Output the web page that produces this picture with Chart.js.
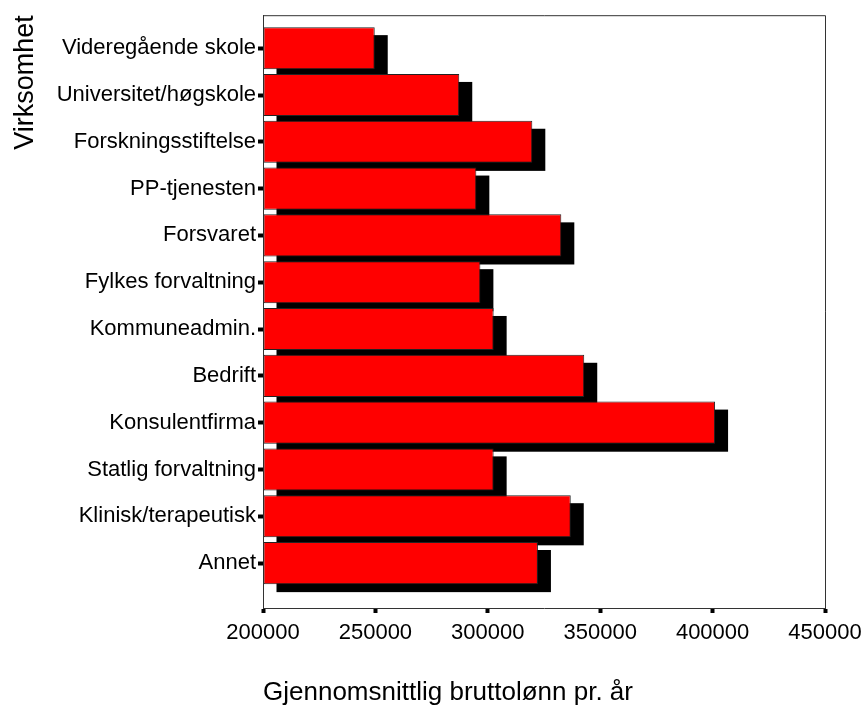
<!DOCTYPE html>
<html>
<head>
<meta charset="utf-8">
<script src="https://cdn.jsdelivr.net/npm/chart.js@4.4.1/dist/chart.umd.min.js"></script>
<style>
  html, body { margin: 0; padding: 0; background: #ffffff; }
  #wrap { width: 861px; height: 711px; }
</style>
</head>
<body>
<div id="wrap"><canvas id="chart"></canvas></div>
<script>
// data
const categories = [
  'Videregående skole',
  'Universitet/høgskole',
  'Forskningsstiftelse',
  'PP-tjenesten',
  'Forsvaret',
  'Fylkes forvaltning',
  'Kommuneadmin.',
  'Bedrift',
  'Konsulentfirma',
  'Statlig forvaltning',
  'Klinisk/terapeutisk',
  'Annet'
];
const salaries = [249700, 287300, 319800, 294900, 332700, 296700, 302600, 342900, 401100, 302600, 336900, 322300];
const xTicks = [200000, 250000, 300000, 350000, 400000, 450000];

const FONT = "'Liberation Sans', Arial, sans-serif";
const n = categories.length;

// first category on top: row index counted from the bottom
const rows = categories.map((_, i) => n - 1 - i);
const points = salaries.map((v, i) => ({ x: v, y: rows[i] }));

// hard black drop shadow behind each bar, taken from the bar elements
const hardShadow = {
  id: 'hardShadow',
  beforeDatasetsDraw(chart) {
    const ctx = chart.ctx;
    const meta = chart.getDatasetMeta(0);
    ctx.save();
    ctx.fillStyle = '#000000';
    meta.data.forEach(bar => {
      const { x, y, base, height } = bar.getProps(['x', 'y', 'base', 'height'], true);
      const left = Math.min(x, base);
      ctx.fillRect(left + 13, y - height / 2 + 8, Math.abs(x - base), height);
    });
    ctx.restore();
  }
};

// top and right edges of the plot frame
const frame = {
  id: 'frame',
  afterDraw(chart) {
    const { ctx, chartArea: a } = chart;
    ctx.save();
    ctx.strokeStyle = '#333333';
    ctx.lineWidth = 1;
    ctx.beginPath();
    ctx.moveTo(a.left, a.top + 0.5);
    ctx.lineTo(a.right + 0.5, a.top + 0.5);
    ctx.lineTo(a.right + 0.5, a.bottom);
    ctx.stroke();
    ctx.restore();
  }
};

new Chart(document.getElementById('chart'), {
  type: 'bar',
  data: {
    datasets: [{
      data: points,
      base: xTicks[0],
      backgroundColor: '#ff0000',
      borderColor: '#222222',
      borderWidth: 1,
      borderSkipped: false,
      barPercentage: 0.9,
      categoryPercentage: 1.0
    }]
  },
  options: {
    indexAxis: 'y',
    responsive: true,
    maintainAspectRatio: false,
    animation: false,
    layout: { padding: { top: 15, left: 0, right: 0, bottom: 0 } },
    plugins: {
      legend: { display: false },
      tooltip: { enabled: false }
    },
    scales: {
      x: {
        type: 'linear',
        position: 'bottom',
        min: xTicks[0],
        max: xTicks[xTicks.length - 1],
        afterBuildTicks: (s) => { s.ticks = xTicks.map(v => ({ value: v })); },
        afterFit: (s) => { s.height = 103; s.paddingRight = 36; s.paddingLeft = 0; },
        grid: { display: true, drawOnChartArea: false, offset: false, tickLength: 5, tickWidth: 4, tickColor: '#000000' },
        border: { display: true, color: '#333333', width: 1 },
        ticks: {
          padding: 7,
          color: '#000000',
          font: { family: FONT, size: 22 },
          callback: (v) => String(v)
        },
        title: {
          display: true,
          text: 'Gjennomsnittlig bruttolønn pr. år',
          align: 'start',
          color: '#000000',
          padding: { top: 0, bottom: 3 },
          font: { family: FONT, size: 26 }
        }
      },
      y: {
        type: 'linear',
        position: 'left',
        offset: false,
        min: -0.96,
        max: 11.705,
        afterBuildTicks: (s) => { s.ticks = rows.slice().reverse().map(v => ({ value: v })); },
        afterFit: (s) => { s.width = 263; },
        grid: { display: true, drawOnChartArea: false, offset: false, tickLength: 5, tickWidth: 4, tickColor: '#000000' },
        border: { display: true, color: '#333333', width: 1 },
        ticks: {
          autoSkip: false,
          padding: 2,
          color: '#000000',
          font: { family: FONT, size: 22 },
          callback: (v) => categories[n - 1 - v]
        },
        title: {
          display: true,
          text: 'Virksomhet',
          align: 'end',
          color: '#000000',
          padding: { top: 9, bottom: 0 },
          font: { family: FONT, size: 27 }
        }
      }
    }
  },
  plugins: [hardShadow, frame]
});
</script>
</body>
</html>
